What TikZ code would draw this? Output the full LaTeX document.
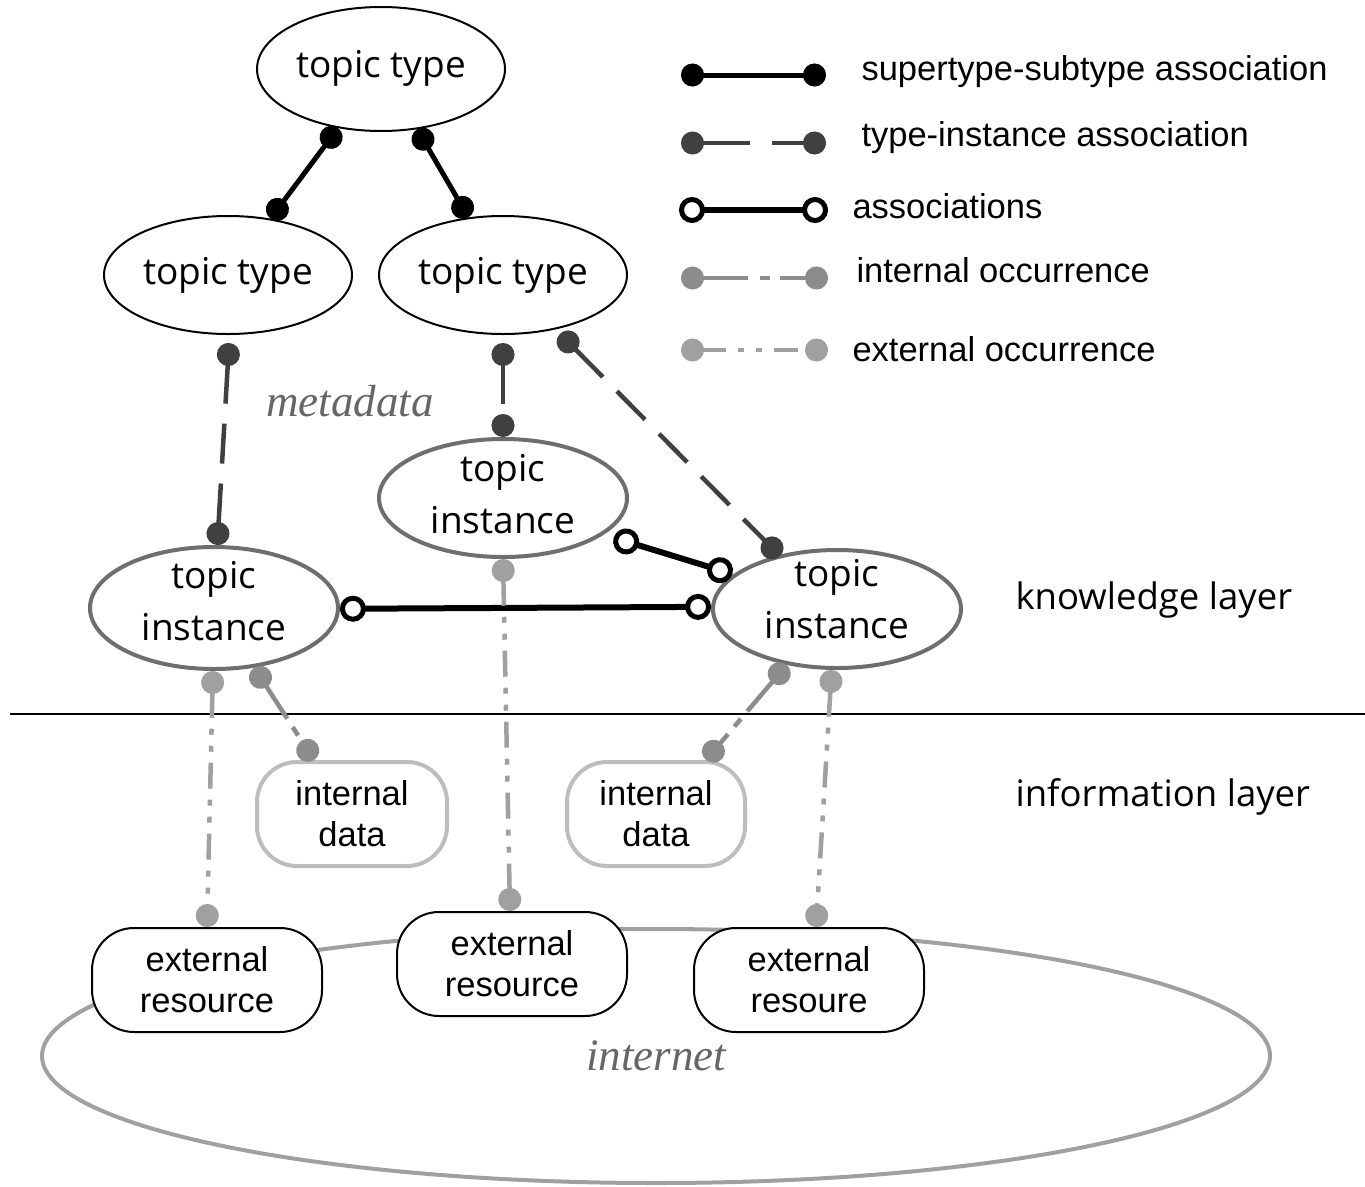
\documentclass[tikz,border=0pt]{standalone}
\usepackage{fontspec}
\setmainfont{Liberation Sans}
\newfontfamily\roundfont{Open Sans}
\newfontfamily\seriffont{Liberation Serif}
\usetikzlibrary{arrows.meta,shapes.geometric}

\definecolor{instgray}{HTML}{6E6E6E}
\definecolor{typeinstgray}{HTML}{404040}
\definecolor{intoccgray}{HTML}{8C8C8C}
\definecolor{extoccgray}{HTML}{A0A0A0}
\definecolor{datagray}{HTML}{BDBDBD}
\definecolor{netgray}{HTML}{A0A0A0}
\definecolor{labelgray}{HTML}{666666}

% extra depth below a node text, lifts the text inside its shape
\newcommand\liftby[1]{\rule[-#1]{0pt}{#1}}

\tikzset{
  dotend/.tip={Circle[length=23pt,width=23pt]},
  ringend/.tip={Circle[open,fill=white,length=26pt,width=26pt,line width=5pt]},
  % node shapes
  typenode/.style={ellipse, draw=black, line width=2pt, fill=white,
    minimum width=248pt, minimum height=118pt, inner sep=-10pt, outer sep=1pt,
    font=\roundfont\fontsize{37}{52}\selectfont, align=center},
  instnode/.style={ellipse, draw=instgray, line width=4pt, fill=white,
    minimum width=248pt, minimum height=118pt, inner sep=-12pt, outer sep=2pt,
    font=\roundfont\fontsize{37}{52}\selectfont, align=center},
  datanode/.style={rectangle, rounded corners=40pt, draw=datagray, line width=4pt,
    fill=white, minimum height=104pt, inner sep=0pt, outer sep=2pt,
    font=\fontsize{34.5}{41}\selectfont, align=center},
  resnode/.style={rectangle, rounded corners=42pt, draw=black, line width=2pt,
    fill=white, minimum width=230pt, minimum height=104pt, inner sep=0pt, outer sep=1pt,
    font=\fontsize{34.5}{41}\selectfont, align=center},
  layertext/.style={anchor=west, font=\roundfont\fontsize{36.5}{44}\selectfont},
  legendtext/.style={anchor=west, font=\fontsize{34.5}{42}\selectfont},
  areatext/.style={text=labelgray, font=\seriffont\itshape\fontsize{45}{52}\selectfont},
  % connector kinds
  supsub/.style={draw=black, line width=5pt, dotend-dotend},
  typeinst/.style={draw=typeinstgray, line width=4.5pt,
    dash pattern=on 40pt off 20pt, dotend-dotend},
  assoc/.style={draw=black, line width=6pt, ringend-ringend},
  intocc/.style={draw=intoccgray, line width=4.5pt,
    dash pattern=on 40pt off 10pt on 10pt off 10pt, dotend-dotend},
  extocc/.style={draw=extoccgray, line width=4.5pt,
    dash pattern=on 26pt off 11pt on 6pt off 11pt on 6pt off 11pt, dotend-dotend},
}

\begin{document}
\begin{tikzpicture}[x=1pt,y=-1pt]
\useasboundingbox (0,0) rectangle (1365,1186);

% the internet, behind the external resources
\node[ellipse, draw=netgray, line width=4pt, minimum width=1228pt, minimum height=254pt,
  inner sep=0pt, areatext] (net) at (656,1056) {internet};

% layer separator
\coordinate (sepL) at (10,714);
\coordinate (sepR) at (1365,714);
\draw[line width=2pt] (sepL) -- (sepR);

% metadata: topic types
\node[typenode, minimum height=124pt] (tt0) at (381,69) {topic type\liftby{10pt}};
\node[typenode] (tt1) at (228,275) {topic type\liftby{8pt}};
\node[typenode] (tt2) at (503,275) {topic type\liftby{8pt}};
\node[areatext] (meta) at (350,401) {metadata};

% knowledge layer: topic instances
\node[instnode] (ti0) at (503,498) {topic\\instance\liftby{8pt}};
\node[instnode, minimum height=122pt] (ti1) at (214,608) {topic\\instance\liftby{14pt}};
\node[instnode] (ti2) at (837,609) {topic\\instance\liftby{20pt}};

% information layer
\node[datanode, minimum width=190pt] (id1) at (352,814) {internal\\data};
\node[datanode, minimum width=178pt] (id2) at (656,814) {internal\\data};
\node[resnode] (er1) at (207,980) {external\\resource};
\node[resnode] (er2) at (512,964) {external\\resource};
\node[resnode] (er3) at (809,980) {external\\resoure};

\node[layertext] (kl) at (1012,600) {knowledge layer};
\node[layertext] (il) at (1012,797) {information layer};

% supertype-subtype
\draw[supsub] (tt0.234) -- (tt1.53);
\draw[supsub] (tt0.301) -- (tt2.121);

% type-instance
\draw[typeinst] ([yshift=-8pt]tt1.271) -- (ti1.87);
\draw[typeinst] ([yshift=-8pt]tt2.270) -- (ti0.90);
\draw[typeinst] ([xshift=6pt,yshift=-4pt]tt2.313) -- ([xshift=-2pt,yshift=-2pt]ti2.135);

% associations
\draw[assoc] ([xshift=10pt,yshift=-3pt]ti0.340) -- ([yshift=1pt]ti2.162);
\draw[assoc] ([yshift=-3pt]ti1.1) -- (ti2.179);

% internal occurrences
\draw[intocc] (ti1.304) -- ([xshift=-38pt]id1.north);
\draw[intocc] (ti2.228) -- ([xshift=50pt]id2.north);

% external occurrences
\draw[extocc] (ti1.269) -- (er1.north);
\draw[extocc] (ti0.270) -- ([xshift=-2pt]er2.north);
\draw[extocc] (ti2.265) -- ([xshift=7pt]er3.north);

% legend
\coordinate (la1) at (681,75);  \coordinate (lb1) at (826,75);
\coordinate (la2) at (681,143); \coordinate (lb2) at (826,143);
\coordinate (la3) at (679,210); \coordinate (lb3) at (828,210);
\coordinate (la4) at (681,278); \coordinate (lb4) at (828,278);
\coordinate (la5) at (681,350); \coordinate (lb5) at (828,350);
\draw[supsub] (la1) -- (lb1);
\draw[typeinst, dash pattern=on 48pt off 22pt] (la2) -- (lb2);
\draw[assoc] (la3) -- (lb3);
\draw[intocc, dash pattern=on 46pt off 12pt on 10pt off 10pt] (la4) -- (lb4);
\draw[extocc, dash pattern=on 24pt off 12pt on 6pt off 12pt on 6pt off 12pt] (la5) -- (lb5);
\node[legendtext] (lt1) at (858,72) {supertype-subtype association};
\node[legendtext] (lt2) at (858,138) {type-instance association};
\node[legendtext] (lt3) at (849,206) {associations};
\node[legendtext] (lt4) at (853,270) {internal occurrence};
\node[legendtext] (lt5) at (849,349) {external occurrence};
\end{tikzpicture}
\end{document}
